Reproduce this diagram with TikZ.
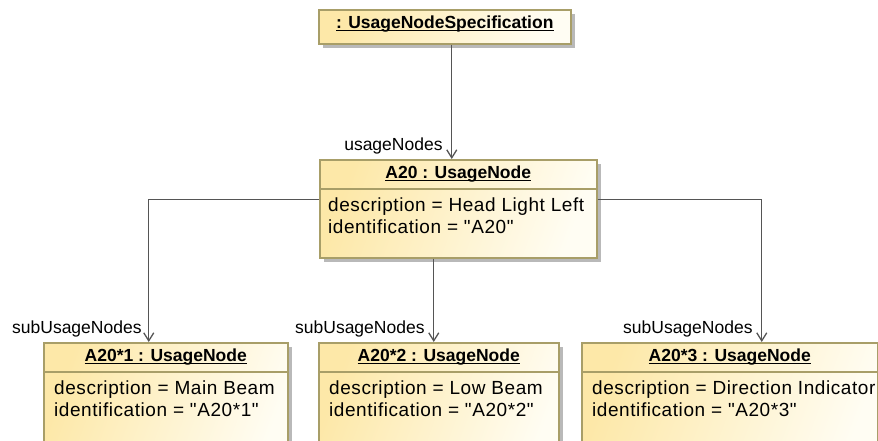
\documentclass[tikz,border=0pt]{standalone}
\usepackage{fontspec}
\setmainfont{Liberation Sans}
\newfontfamily\slotfont[LetterSpace=3]{Liberation Sans}
\usetikzlibrary{arrows.meta,shadows}

\definecolor{umlborder}{RGB}{168,158,104}
\definecolor{umlwarm}{RGB}{253,232,168}
\definecolor{umlpale}{RGB}{255,253,243}
\definecolor{umlline}{RGB}{85,85,85}
\definecolor{umlshadow}{RGB}{185,185,185}

% underline drawn just under the baseline, as in UML object names
\newcommand\umlul[1]{\setbox0\hbox{#1}\rlap{\rule[-2.2pt]{\wd0}{1.1pt}}\box0}
% straight double quote
\newcommand\dq{{\char34}}

\tikzset{
  objbox/.style={draw=umlborder, line width=1.5pt, inner sep=0pt, anchor=north west,
    left color=umlwarm, right color=umlpale, shading angle=70,
    drop shadow={shadow xshift=4pt, shadow yshift=-4pt, fill=umlshadow, opacity=1}},
  sepline/.style={draw=umlborder, line width=1.5pt},
  objtitle/.style={inner sep=0pt, font=\fontsize{17.5}{20}\selectfont\bfseries},
  attr/.style={inner sep=0pt, anchor=base west, font=\slotfont\fontsize{19}{22}\selectfont},
  rolelabel/.style={inner sep=0pt, anchor=base east, font=\fontsize{17.5}{20}\selectfont},
  link/.style={draw=umlline, line width=1.3pt, -{Straight Barb[length=8pt,width=10pt]}},
}

\begin{document}
\begin{tikzpicture}[x=1pt,y=-1pt]
  \useasboundingbox (0,0) rectangle (878,440);
  \clip (0,0) rectangle (878,440);

  % object boxes
  \node[objbox, minimum width=252pt, minimum height=34pt] (spec) at (318,9) {};
  \node[objbox, minimum width=277pt, minimum height=98pt] (a20) at (319,159) {};
  \node[objbox, minimum width=244pt, minimum height=130pt] (c1) at (43,342) {};
  \node[objbox, minimum width=240pt, minimum height=130pt] (c2) at (318,342) {};
  \node[objbox, minimum width=296pt, minimum height=130pt] (c3) at (581,342) {};

  % compartment separators
  \foreach \b in {a20,c1,c2,c3}
    \draw[sepline] ([yshift=-30pt]\b.north west) -- ([yshift=-30pt]\b.north east);

  % object names
  \node[objtitle] at ([yshift=-15pt]spec.north) {\umlul{: UsageNodeSpecification}};
  \node[objtitle] at ([yshift=-15pt]a20.north) {\umlul{A20 : UsageNode}};
  \node[objtitle] at ([yshift=-15pt]c1.north) {\umlul{A20*1 : UsageNode}};
  \node[objtitle] at ([yshift=-15pt]c2.north) {\umlul{A20*2 : UsageNode}};
  \node[objtitle] at ([yshift=-15pt]c3.north) {\umlul{A20*3 : UsageNode}};

  % slot values
  \node[attr] at ([xshift=9pt,yshift=-52pt]a20.north west) {description = Head Light Left};
  \node[attr] at ([xshift=9pt,yshift=-74pt]a20.north west) {identification = \dq A20\dq};
  \node[attr] at ([xshift=11pt,yshift=-52pt]c1.north west) {description = Main Beam};
  \node[attr] at ([xshift=11pt,yshift=-74pt]c1.north west) {identification = \dq A20*1\dq};
  \node[attr] at ([xshift=11pt,yshift=-52pt]c2.north west) {description = Low Beam};
  \node[attr] at ([xshift=11pt,yshift=-74pt]c2.north west) {identification = \dq A20*2\dq};
  \node[attr] at ([xshift=11pt,yshift=-52pt]c3.north west) {description = Direction Indicator};
  \node[attr] at ([xshift=11pt,yshift=-74pt]c3.north west) {identification = \dq A20*3\dq};

  % link ends
  \coordinate (t0) at ([xshift=7pt]a20.north -| spec.south);
  \coordinate (t1) at ([xshift=-17pt]c1.north);
  \coordinate (t2) at ([xshift=-5pt]c2.north);
  \coordinate (t3) at ([xshift=32pt]c3.north);

  % links
  \draw[link] (t0 |- spec.south) -- (t0);
  \draw[link] ([yshift=9pt]a20.west) -| (t1);
  \draw[link] (a20.south -| t2) -- (t2);
  \draw[link] ([yshift=9pt]a20.east) -| (t3);

  % role names
  \node[rolelabel] at ([xshift=-9pt,yshift=9pt]t0) {usageNodes};
  \node[rolelabel] at ([xshift=-7pt,yshift=9pt]t1) {subUsageNodes};
  \node[rolelabel] at ([xshift=-9pt,yshift=9pt]t2) {subUsageNodes};
  \node[rolelabel] at ([xshift=-9pt,yshift=9pt]t3) {subUsageNodes};
\end{tikzpicture}
\end{document}
